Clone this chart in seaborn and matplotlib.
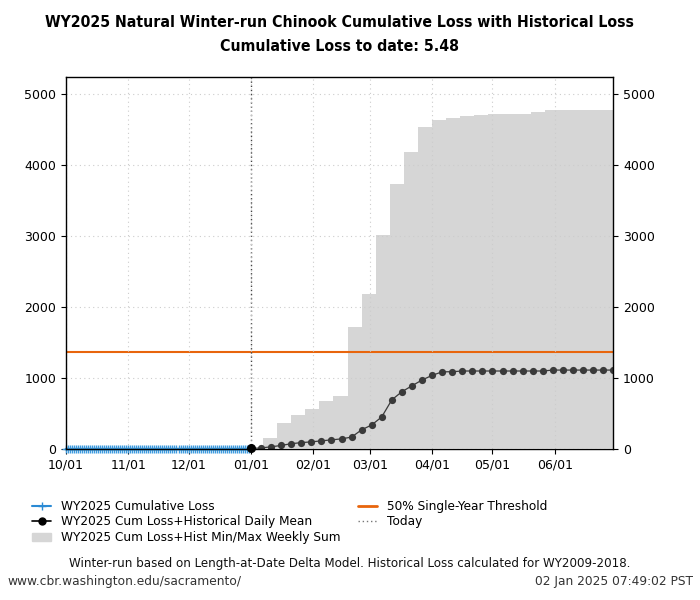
import numpy as np
import pandas as pd
import matplotlib
matplotlib.use("Agg")
import matplotlib.pyplot as plt
import matplotlib.dates as mdates
from matplotlib.patches import Patch
from matplotlib.lines import Line2D
from matplotlib import font_manager
import seaborn as sns

# WY2025 cumulative loss observed so far (flat near zero, 5.48 to date)
obs_change_dates = ["2024-10-01", "2025-01-01"]
obs_change_vals = [0.0, 5.48]

# cumulative loss + historical daily mean, every 5 days from today
mean_start = "2025-01-01"
mean_vals = [5.48, 12, 28, 47, 72, 87, 98, 112, 126, 140, 165, 268, 336, 450,
             690, 805, 888, 970, 1035, 1085, 1087, 1097, 1097, 1097, 1097, 1097,
             1097, 1097, 1097, 1097, 1110, 1110, 1110, 1110, 1110, 1110, 1110]

# cumulative loss + historical max weekly sum (step every 7 days)
week_dates = ["2025-01-01", "2025-01-07", "2025-01-14", "2025-01-21", "2025-01-28",
              "2025-02-04", "2025-02-11", "2025-02-18", "2025-02-25", "2025-03-04",
              "2025-03-11", "2025-03-18", "2025-03-25", "2025-04-01", "2025-04-08",
              "2025-04-15", "2025-04-22", "2025-04-29", "2025-05-06", "2025-05-13",
              "2025-05-20", "2025-05-27", "2025-06-03", "2025-06-10", "2025-06-17",
              "2025-06-24", "2025-06-30"]
week_max = [5.48, 146, 357, 474, 568, 676, 742, 1723, 2188, 3009, 3732, 4183,
            4540, 4630, 4658, 4690, 4704, 4723, 4723, 4723, 4746, 4770, 4770,
            4770, 4770, 4770, 4770]
week_min = [5.48] * len(week_max)

threshold = 1366
today = "2025-01-01"
x_start, x_end = "2024-10-01", "2025-06-30"

# build daily observed series
obs_days = pd.date_range(x_start, today, freq="D")
obs = pd.Series(obs_change_vals, index=pd.to_datetime(obs_change_dates)).reindex(obs_days).ffill()
mean_days = pd.date_range(mean_start, periods=len(mean_vals), freq="5D")

sns.set_style("ticks")
plt.rcParams["font.family"] = ["DejaVu Sans"]
plt.rcParams["text.color"] = "black"
plt.rcParams["xtick.color"] = "black"
plt.rcParams["ytick.color"] = "black"

# condensed bold title font: prefer DejaVu Sans Condensed, else a narrow face
fonts = font_manager.fontManager.ttflist
names = {f.name for f in fonts}
title_fam, title_kw = ["DejaVu Sans"], dict(fontsize=11)
if any(f.name == "DejaVu Sans" and f.stretch == "condensed" for f in fonts):
    title_kw = dict(fontstretch="condensed", fontsize=11.3)
elif "Liberation Sans Narrow" in names:
    title_fam, title_kw = ["Liberation Sans Narrow", "DejaVu Sans"], dict(fontsize=14.3)

fig = plt.figure(figsize=(7, 6), dpi=100)
ax = fig.add_axes([0.094, 0.252, 0.782, 0.62])

ax.fill_between(pd.to_datetime(week_dates), week_min, week_max, step="post",
                color="#d6d6d6", linewidth=0, zorder=1)
ax.axhline(threshold, color="#e8650c", lw=1.5, zorder=2)
ax.axvline(pd.Timestamp(today), color="#444444", lw=1, ls=(0, (1, 2)), zorder=2)

sns.lineplot(x=mean_days, y=mean_vals, ax=ax, color="#3a3a3a", lw=0.9,
             marker="o", markersize=5.2, markeredgewidth=0, zorder=3)
sns.lineplot(x=obs.index, y=obs.values, ax=ax, color="#2a8ad4", lw=1.5,
             marker="+", markersize=6, markeredgewidth=1, markeredgecolor="#3c9be0",
             clip_on=False, zorder=4)
ax.plot(pd.Timestamp(today), obs_change_vals[-1], "o", color="black", ms=5.5,
        clip_on=False, zorder=5)

ax.set_xlim(pd.Timestamp(x_start), pd.Timestamp(x_end))
ax.set_ylim(0, 5245)
ax.set_yticks(range(0, 5001, 1000))
ax.xaxis.set_major_locator(mdates.MonthLocator())
ax.xaxis.set_major_formatter(mdates.DateFormatter("%m/%d"))
ax.tick_params(axis="y", right=True, labelright=True, labelsize=9, direction="out")
ax.tick_params(axis="x", labelsize=9, direction="out")
ax.set_xlabel("")
ax.set_ylabel("")
ax.grid(True, color="#cccccc", ls=(0, (1, 3)), lw=0.8)
ax.set_axisbelow(False)
for s in ax.spines.values():
    s.set_visible(True)
    s.set_color("black")
    s.set_linewidth(1)
    s.set_zorder(10)

handles = [
    Line2D([], [], color="#2a8ad4", lw=1.5, marker="+", ms=6),
    Line2D([], [], color="black", lw=1.2, marker="o", ms=5),
    Patch(color="#d6d6d6"),
    Line2D([], [], color="#e8650c", lw=2),
    Line2D([], [], color="#777777", lw=1, ls=(0, (1, 2))),
]
labels = ["WY2025 Cumulative Loss", "WY2025 Cum Loss+Historical Daily Mean",
          "WY2025 Cum Loss+Hist Min/Max Weekly Sum", "50% Single-Year Threshold", "Today"]
fig.legend(handles, labels, ncol=2, loc="upper left", bbox_to_anchor=(0.039, 0.175),
           bbox_transform=fig.transFigure, frameon=False, fontsize=8.7,
           handlelength=1.6, handletextpad=0.8, labelspacing=0.22, columnspacing=1.45,
           borderaxespad=0)

fig.text(0.485, 0.962, "WY2025 Natural Winter-run Chinook Cumulative Loss with Historical Loss",
         ha="center", va="center", fontweight="bold", family=title_fam, **title_kw)
fig.text(0.485, 0.923, "Cumulative Loss to date: 5.48", ha="center", va="center",
         fontweight="bold", family=title_fam, **title_kw)

fig.text(0.5, 0.06, "Winter-run based on Length-at-Date Delta Model. Historical Loss calculated for WY2009-2018.",
         ha="center", va="center", fontsize=8.6, color="#111111")
fig.text(0.01, 0.031, "www.cbr.washington.edu/sacramento/", ha="left", va="center",
         fontsize=8.8, color="#333333")
fig.text(0.99, 0.031, "02 Jan 2025 07:49:02 PST", ha="right", va="center",
         fontsize=8.8, color="#333333")

fig.savefig("out.png", dpi=100)
